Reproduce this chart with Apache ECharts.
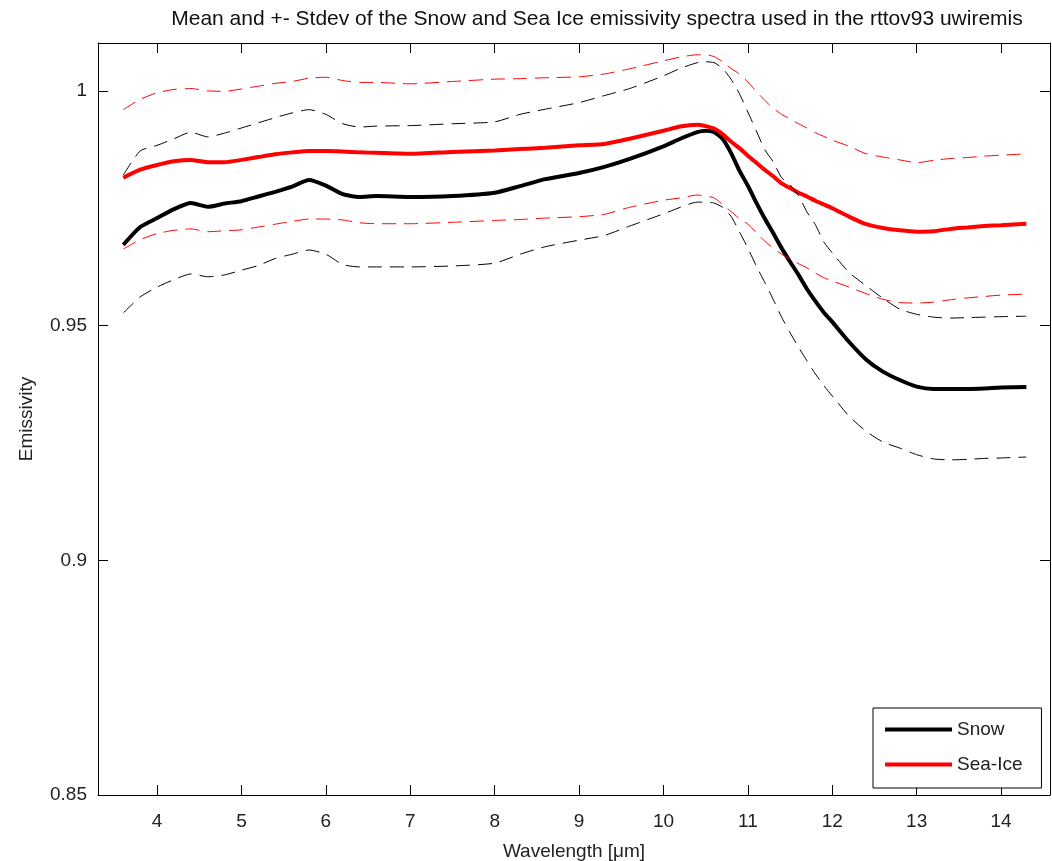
<!DOCTYPE html>
<html>
<head>
<meta charset="utf-8">
<script src="https://cdn.jsdelivr.net/npm/echarts@6/dist/echarts.min.js"></script>
<style>html,body{margin:0;padding:0;background:#fff}#c{width:1052px;height:861px}</style>
</head>
<body>
<div id="c"></div>
<script>
const wavelengths = [3.6,3.8,4.0,4.2,4.4,4.6,4.8,5.0,5.2,5.4,5.6,5.8,6.0,6.2,6.4,6.6,7.0,7.5,8.0,8.3,8.6,9.0,9.3,9.6,10.0,10.2,10.4,10.5,10.6,10.7,10.8,10.9,11.0,11.1,11.2,11.3,11.4,11.5,11.6,11.7,11.8,11.9,12.0,12.2,12.4,12.6,12.8,13.0,13.2,13.4,13.6,13.8,14.0,14.3];
const snowMean = [0.9672,0.9710,0.9729,0.9748,0.9761,0.9753,0.9760,0.9765,0.9775,0.9785,0.9796,0.9810,0.9798,0.9780,0.9774,0.9776,0.9774,0.9776,0.9783,0.9797,0.9812,0.9825,0.9838,0.9855,0.9882,0.9898,0.9912,0.9915,0.9912,0.9898,0.9868,0.9830,0.9798,0.9762,0.9728,0.9697,0.9665,0.9636,0.9608,0.9578,0.9552,0.9528,0.9508,0.9465,0.9428,0.9402,0.9384,0.9370,0.9365,0.9365,0.9365,0.9366,0.9368,0.9369];
const snowPlus = [0.9821,0.9872,0.9884,0.9898,0.9912,0.9902,0.9910,0.9921,0.9932,0.9943,0.9953,0.9960,0.9950,0.9930,0.9923,0.9925,0.9926,0.9930,0.9934,0.9950,0.9961,0.9975,0.9990,1.0005,1.0032,1.0048,1.0060,1.0062,1.0060,1.0048,1.0025,0.9994,0.9955,0.9915,0.9875,0.9849,0.9815,0.9800,0.9777,0.9742,0.9715,0.9678,0.9655,0.9613,0.9585,0.9558,0.9535,0.9524,0.9518,0.9516,0.9517,0.9518,0.9519,0.9520];
const snowMinus = [0.9527,0.9561,0.9582,0.9598,0.9610,0.9604,0.9608,0.9618,0.9628,0.9643,0.9652,0.9661,0.9652,0.9630,0.9625,0.9625,0.9625,0.9627,0.9633,0.9652,0.9668,0.9682,0.9692,0.9712,0.9738,0.9752,0.9763,0.9763,0.9761,0.9752,0.9733,0.9700,0.9665,0.9627,0.9592,0.9556,0.9518,0.9485,0.9454,0.9425,0.9397,0.9372,0.9350,0.9307,0.9275,0.9252,0.9239,0.9225,0.9216,0.9214,0.9215,0.9217,0.9218,0.9220];
const iceMean = [0.9815,0.9832,0.9842,0.9850,0.9853,0.9848,0.9848,0.9853,0.9859,0.9865,0.9869,0.9872,0.9872,0.9871,0.9869,0.9868,0.9866,0.9870,0.9873,0.9876,0.9879,0.9884,0.9887,0.9898,0.9915,0.9924,0.9928,0.9925,0.9920,0.9908,0.9892,0.9878,0.9862,0.9847,0.9832,0.9818,0.9803,0.9793,0.9783,0.9775,0.9766,0.9758,0.9750,0.9732,0.9716,0.9708,0.9703,0.9700,0.9701,0.9706,0.9709,0.9712,0.9714,0.9717];
const icePlus = [0.9960,0.9982,0.9996,1.0003,1.0005,1.0000,0.9999,1.0004,1.0010,1.0016,1.0020,1.0027,1.0029,1.0022,1.0018,1.0018,1.0015,1.0020,1.0025,1.0026,1.0028,1.0030,1.0036,1.0047,1.0064,1.0072,1.0077,1.0077,1.0073,1.0062,1.0048,1.0036,1.0019,0.9999,0.9980,0.9963,0.9950,0.9940,0.9930,0.9921,0.9911,0.9903,0.9895,0.9882,0.9866,0.9859,0.9853,0.9847,0.9852,0.9856,0.9858,0.9861,0.9863,0.9866];
const iceMinus = [0.9663,0.9683,0.9696,0.9703,0.9706,0.9700,0.9702,0.9704,0.9710,0.9716,0.9722,0.9727,0.9727,0.9725,0.9719,0.9717,0.9717,0.9720,0.9724,0.9726,0.9729,0.9732,0.9737,0.9752,0.9767,0.9772,0.9778,0.9776,0.9772,0.9758,0.9743,0.9728,0.9716,0.9698,0.9680,0.9665,0.9652,0.9642,0.9632,0.9623,0.9612,0.9602,0.9595,0.9582,0.9568,0.9556,0.9549,0.9548,0.9550,0.9555,0.9559,0.9562,0.9565,0.9567];
const xTicks = [4,5,6,7,8,9,10,11,12,13,14];
const yTicks = [0.85,0.9,0.95,1];
const titleText = 'Mean and +- Stdev of the Snow and Sea Ice emissivity spectra used in the rttov93 uwiremis';

const pairs = arr => wavelengths.map((w, i) => [w, arr[i]]);
const FONT = 'Liberation Sans';
const AX = '#000';

function xAx(pos, showLabel, name) {
  return {
    type: 'value', position: pos, min: 3.3, max: 14.58,
    name: name || '', nameLocation: 'middle', nameGap: 47,
    nameTextStyle: {fontFamily: FONT, fontSize: 19, color: '#222'},
    axisLine: {show: true, onZero: false, lineStyle: {color: AX, width: 1}},
    axisTick: {show: true, inside: true, length: 10, lineStyle: {color: AX}, customValues: xTicks},
    axisLabel: {show: showLabel, customValues: xTicks, margin: 17, fontFamily: FONT, fontSize: 19, color: '#222'},
    splitLine: {show: false}
  };
}
function yAx(pos, showLabel, name) {
  return {
    type: 'value', position: pos, min: 0.85, max: 1.0102,
    name: name || '', nameLocation: 'middle', nameGap: 62, nameRotate: 90,
    nameTextStyle: {fontFamily: FONT, fontSize: 19, color: '#222'},
    axisLine: {show: true, onZero: false, lineStyle: {color: AX, width: 1}},
    axisTick: {show: true, inside: true, length: 10, lineStyle: {color: AX}, customValues: yTicks},
    axisLabel: {show: showLabel, customValues: yTicks, margin: 11, fontFamily: FONT, fontSize: 19, color: '#222',
      formatter: v => String(Math.round(v * 100) / 100)},
    splitLine: {show: false}
  };
}

function line(name, data, color, width, dashed) {
  return {
    name, type: 'line', data: pairs(data), xAxisIndex: 0, yAxisIndex: 0,
    showSymbol: false, symbol: 'none', smooth: 0.2, animation: false,
    lineStyle: {color, width, type: dashed ? [14, 8] : 'solid'},
    itemStyle: {color}, emphasis: {disabled: true}, z: dashed ? 3 : 2
  };
}

const chart = echarts.init(document.getElementById('c'), null, {renderer: 'canvas'});
chart.setOption({
  backgroundColor: '#fff',
  animation: false,
  title: {text: titleText, left: 592, textAlign: 'center', top: 4,
    textStyle: {fontFamily: FONT, fontSize: 21, fontWeight: 'normal', color: '#111'}},
  grid: {left: 98, right: 2, top: 43, bottom: 66, containLabel: false, outerBoundsMode: 'none'},
  xAxis: [xAx('bottom', true, 'Wavelength [\u03bcm]'), xAx('top', false)],
  yAxis: [yAx('left', true, 'Emissivity'), yAx('right', false)],
  legend: {
    data: [
      {name: 'Snow', icon: 'rect', itemStyle: {color: '#000'}},
      {name: 'Sea-Ice', icon: 'rect', itemStyle: {color: '#ff0000'}}
    ],
    orient: 'vertical', left: 873, top: 708,
    itemWidth: 67, itemHeight: 4, itemGap: 16, padding: [12, 19, 14, 12],
    backgroundColor: '#fff', borderColor: '#000', borderWidth: 1,
    textStyle: {fontFamily: FONT, fontSize: 19, color: '#222'},
    selectedMode: false
  },
  series: [
    line('Snow', snowMean, '#000', 4, false),
    line('Sea-Ice', iceMean, '#ff0000', 4, false),
    line('Snow +', snowPlus, '#000', 1, true),
    line('Snow -', snowMinus, '#000', 1, true),
    line('Sea-Ice +', icePlus, '#ff0000', 1, true),
    line('Sea-Ice -', iceMinus, '#ff0000', 1, true)
  ]
});
</script>
</body>
</html>
